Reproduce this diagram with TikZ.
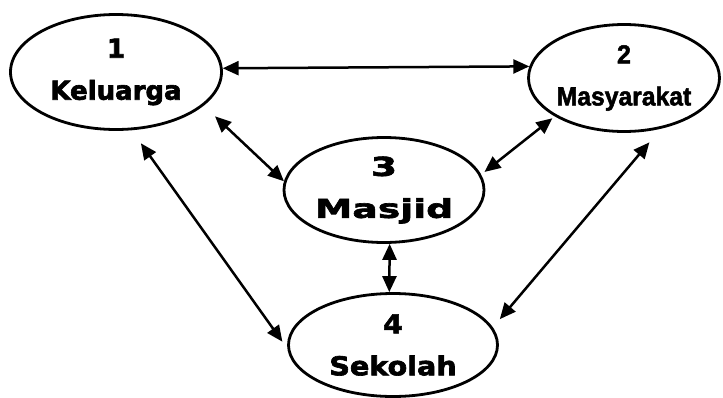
\documentclass[tikz,border=0pt]{standalone}
\usepackage{fontspec}
\setmainfont{DejaVu Sans}
\newfontfamily\heavyfont{DejaVu Sans Bold}[FakeBold=2.5]
\newfontfamily\widefont{DejaVu Sans Bold}[FakeStretch=1.45,FakeBold=2.5]
\newfontfamily\sekfont{DejaVu Sans Bold}[FakeStretch=1.1,FakeBold=2.5]
\newfontfamily\narrowfont{Liberation Sans Bold}[FakeStretch=0.95,FakeBold=2]
\usetikzlibrary{arrows.meta,shapes.geometric}
\newcommand{\ukuran}{\fontsize{26}{42}\selectfont}
\tikzset{
  tempat/.style={ellipse, draw, line width=2.8pt, inner sep=0pt, align=center},
  panah/.style={<->, >={Triangle[length=16pt,width=14pt]}, line width=2.5pt}
}
\begin{document}
\begin{tikzpicture}[x=1pt,y=-1pt]
   \useasboundingbox (0,0) rectangle (723,397);
   % lingkungan pendidikan
   \node[tempat, minimum width=211pt, minimum height=115pt, font=\heavyfont\ukuran] (kel) at (116,72) {1\\Keluarga};
   \node[tempat, minimum width=191pt, minimum height=107pt, font=\narrowfont\ukuran] (mas) at (624,78) {2\\Masyarakat};
   \node[tempat, minimum width=200pt, minimum height=105pt, font=\widefont\ukuran] (msj) at (384,190) {3\\Masjid};
   \node[tempat, minimum width=209pt, minimum height=103pt, font=\sekfont\ukuran] (sek) at (393,345) {4\\Sekolah};
   % hubungan
   \draw[panah] (kel.2.2) -- (mas.173.9);
   \draw[panah, shorten <=15.6pt] (kel.-21.9) -- (msj.175.8);
   \draw[panah, shorten <=16pt, shorten >=8.6pt] (kel.-75.7) -- (sek.-178.9);
   \draw[panah, shorten <=3pt, shorten >=4.3pt] (mas.-151.5) -- (msj.9);
   \draw[panah, shorten <=17.8pt, shorten >=10.8pt] (mas.-54.8) -- (sek.10.9);
   \draw[panah] (msj.-84.6) -- (sek.94.4);
  \end{tikzpicture}
\end{document}
